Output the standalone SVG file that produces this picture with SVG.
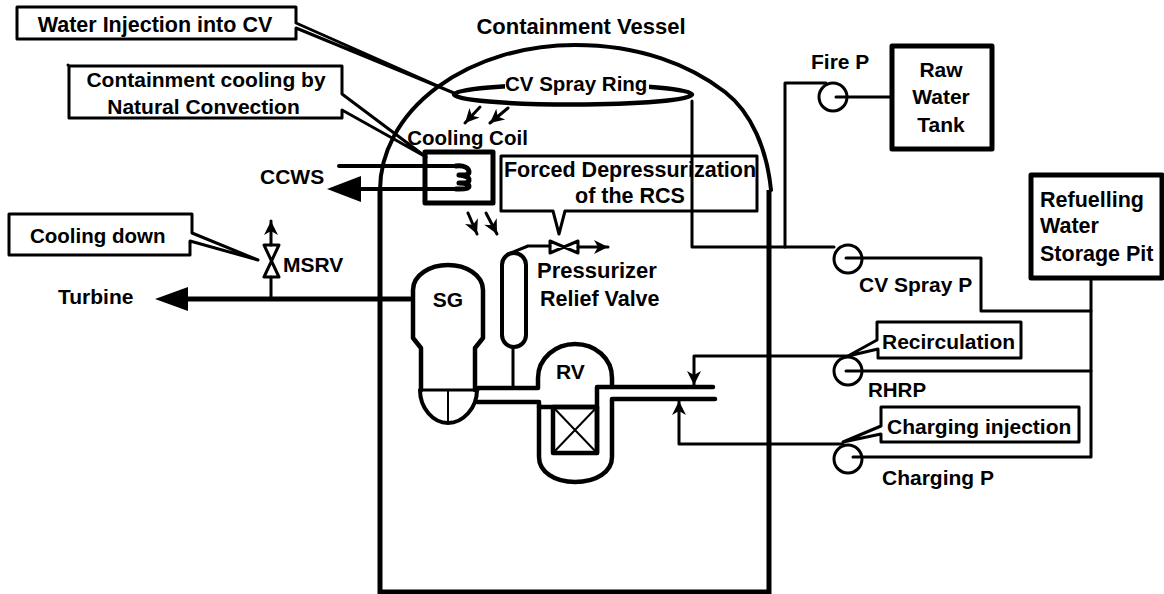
<svg xmlns="http://www.w3.org/2000/svg" width="1164" height="594" viewBox="0 0 1164 594">
<style>
text{font-family:"Liberation Sans",Arial,sans-serif;font-weight:700;font-size:21px;fill:#000}
.m{text-anchor:middle}
.a{font-size:20.5px}
.b{font-size:21.5px}
.c{font-size:22px}
.s{fill:none;stroke:#000;stroke-linejoin:round;stroke-linecap:round}
.w2{stroke-width:2}.w3{stroke-width:3}.w4{stroke-width:4}.w45{stroke-width:4.5}.w5{stroke-width:5}
</style>
<defs>
<marker id="barb" markerUnits="userSpaceOnUse" markerWidth="20" markerHeight="20" refX="15" refY="8" orient="auto" viewBox="0 0 20 16"><path d="M15 8L1 1L5 8L1 15Z" fill="#000"/></marker>
</defs>
<rect width="1164" height="594" fill="#fff"/>
<g id="connectors">
<path class="s w3" d="M692 101V247H834"/>
<path class="s w3" d="M785 247V83H826"/>
<path class="s w3" d="M836 97H891"/>
<path class="s w3" d="M846 258H981V311H1091"/>
<path class="s w3" d="M1091 278V457H853"/>
<path class="s w3" d="M846 371H1091"/>
<path class="s w3" d="M848 356H694V385" marker-end="url(#barb)"/>
<path class="s w3" d="M843 444H679V401" marker-end="url(#barb)"/>
<path class="s w4" d="M339 166H456"/>
<path class="s w4" d="M358 189H456"/>
<path d="M327 189L361 176V202Z" fill="#000"/>
<path class="s w5" d="M186 299H410"/>
<path d="M155 299L188 287V311Z" fill="#000"/>
<path class="s w3" d="M271 299V277"/>
<path class="s w3" d="M271 245V221" marker-end="url(#barb)"/>
<path class="s w3" d="M513 347V387"/>
<path class="s w3" d="M508 254L528 246H550"/>
<path class="s w3" d="M578 247H608" marker-end="url(#barb)"/>
<path class="s w3" d="M480 107L465 123" marker-end="url(#barb)"/>
<path class="s w3" d="M508 108L490 123" marker-end="url(#barb)"/>
<path class="s w3" d="M468 213L477 234" marker-end="url(#barb)"/>
<path class="s w3" d="M486 213L497 234" marker-end="url(#barb)"/>
</g>
<g id="containment-vessel">
<path class="s w4" d="M380 190A195 145 0 0 1 575 45C640 45 690 65 725 92C752 113 767 150 771 190"/>
<path class="w5" d="M380 190V592H769V190" fill="none" stroke="#000"/>
<text class="m c" x="581" y="34">Containment Vessel</text>
</g>
<g id="spray-ring">
<ellipse class="s" style="stroke-width:4.5" cx="573" cy="94.500" rx="119" ry="10"/>
<rect x="505" y="76" width="144" height="14" fill="#fff"/>
<text class="a" x="505" y="91">CV Spray Ring</text>
</g>
<g id="cooling-coil">
<rect class="s w5" x="425" y="152" width="68" height="51"/>
<path class="s w5" d="M456 166C464 165 469 168 469 172C469 175 466 175 459 175M459 175C466 176 469 177 469 180C469 183 466 183 459 183M459 183C466 183 469 184 469 186C469 189 464 189 456 189"/>
<text class="m a" x="467.500" y="145">Cooling Coil</text>
</g>
<g id="ccws"><text x="260" y="184">CCWS</text></g>
<g id="turbine"><text x="58" y="304">Turbine</text></g>
<g id="msrv">
<path class="s w3" d="M264 245H279L264 277H279Z"/>
<text x="283" y="272">MSRV</text>
</g>
<g id="pressurizer-relief-valve">
<path class="s w3" d="M550 241V253L578 241V253Z"/>
<text class="c" x="537" y="278">Pressurizer</text>
<text class="b" x="540" y="306">Relief Valve</text>
</g>
<g id="pressurizer"><rect class="s w4" x="502" y="253" width="24" height="94" rx="12"/></g>
<g id="sg">
<path class="s w45" d="M421 390V348L413 338V290C413 275 430 265 448 265C466 265 483 275 483 290V338L475 348V390"/>
<path class="s w3" d="M420 390H478"/>
<path class="s w4" d="M420 390C420 408 433 423 448 423C463 423 477 408 477 390"/>
<path class="s w2" d="M448 390V423"/>
<text class="m" x="448" y="307">SG</text>
</g>
<g id="rv">
<path class="s w45" d="M478 388H538V378C538 358 556 344 575 344C595 344 612 358 612 378V387"/>
<path class="s w45" d="M477 402H539V457C539 472 555 482 575 482C596 482 612 472 612 457V399H715"/>
<path class="s w45" d="M597 453V387H713"/>
<path class="s w45" d="M539 407H597"/>
<rect class="s w45" x="553" y="407" width="44" height="46"/>
<path class="s w2" d="M553 407L597 453M597 407L553 453"/>
<text x="556" y="379">RV</text>
</g>
<g id="fire-pump"><circle class="s w3" cx="833" cy="97" r="14"/><text x="811" y="69">Fire P</text></g>
<g id="raw-water-tank">
<rect class="s w5" x="892" y="46" width="100" height="103"/>
<text class="m" x="941" y="77">Raw</text><text class="m" x="941" y="104">Water</text><text class="m" x="941" y="132">Tank</text>
</g>
<g id="rwsp">
<rect class="s w5" x="1031" y="175" width="131" height="103"/>
<text class="b" x="1040" y="207">Refuelling</text><text class="b" x="1040" y="233">Water</text><text class="b" x="1040" y="261">Storage Pit</text>
</g>
<g id="cv-spray-pump"><circle class="s w3" cx="848" cy="259" r="14"/><text x="859" y="292">CV Spray P</text></g>
<g id="rhr-pump"><circle class="s w3" cx="848" cy="371" r="14"/><text class="a" x="868" y="397">RHRP</text></g>
<g id="charging-pump"><circle class="s w3" cx="848" cy="459" r="14"/><text x="882" y="485">Charging P</text></g>
<g id="callout-water-injection">
<path class="s w3" d="M296 23V7H17V39H296V28L454 93Z"/>
<text class="m b" x="155" y="32">Water Injection into CV</text>
</g>
<g id="callout-natural-convection">
<path class="s w3" d="M342 94V66H69V118H342V110L426 157Z"/>
<circle cx="68" cy="65" r="1.500" fill="#000"/>
<text class="m" x="206" y="87">Containment cooling by</text>
<text class="m" x="203.500" y="114">Natural Convection</text>
</g>
<g id="callout-cooling-down">
<path class="s w3" d="M192 233V214H9V255H190V241L258 260Z"/>
<text class="a" x="30" y="243">Cooling down</text>
</g>
<g id="callout-forced-depressurization">
<path class="s w3" d="M553 211H501V156H757V211H565L559 234Z"/>
<text class="m b" x="630" y="177">Forced Depressurization</text>
<text class="m b" x="630" y="203">of the RCS</text>
</g>
<g id="callout-recirculation">
<path class="s w3" d="M877 340V322H1021V358H878V349L848 356Z"/>
<text x="882" y="349">Recirculation</text>
</g>
<g id="callout-charging">
<path class="s w3" d="M881 426V407H1079V442H881V434L843 442Z"/>
<text x="887" y="434">Charging injection</text>
</g>
</svg>
